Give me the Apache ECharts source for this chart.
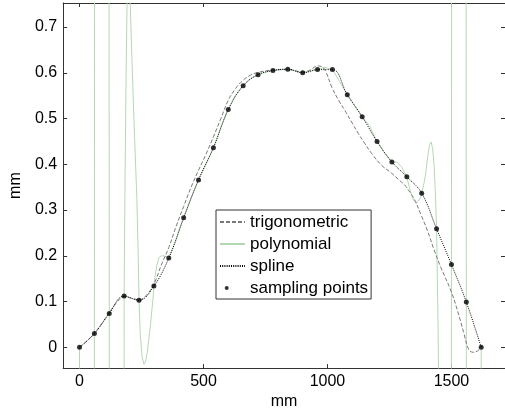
<!DOCTYPE html>
<html>
<head>
<meta charset="utf-8">
<script src="https://cdn.jsdelivr.net/npm/echarts@6/dist/echarts.min.js"></script>
<style>
  html, body { margin: 0; padding: 0; background: #fff; }
  #chart { width: 505px; height: 415px; }
</style>
</head>
<body>
<div id="chart"></div>
<script>
// sampling points (every 60 mm)
const sampleX = [0, 60, 120, 180, 240, 300, 360, 420, 480, 540, 600, 660, 720, 780,
  840, 900, 960, 1020, 1080, 1140, 1200, 1260, 1320, 1380, 1440, 1500, 1560, 1620];
const sampleY = [0, 0.030, 0.074, 0.112, 0.103, 0.134, 0.195, 0.283, 0.366, 0.436, 0.520, 0.572, 0.596, 0.605,
  0.608, 0.600, 0.607, 0.607, 0.552, 0.504, 0.450, 0.405, 0.373, 0.337, 0.259, 0.181, 0.099, 0];

// trigonometric fit
const trigX = [0, 30, 60, 90, 120, 150, 180, 210, 240, 270, 300, 330, 360, 390, 420, 450, 480, 510, 540, 570,
  600, 630, 660, 690, 720, 780, 840, 900, 930, 960, 975, 992, 1018, 1045, 1071, 1100, 1125, 1150, 1178,
  1218, 1258, 1290, 1311, 1335, 1351, 1377, 1404, 1430, 1457, 1497, 1524, 1550, 1570, 1590, 1605, 1620];
const trigY = [0, 0.014, 0.031, 0.052, 0.076, 0.098, 0.111, 0.107, 0.104, 0.114, 0.138, 0.180, 0.218, 0.265,
  0.308, 0.350, 0.387, 0.422, 0.460, 0.500, 0.540, 0.566, 0.584, 0.595, 0.601, 0.606, 0.607, 0.602, 0.606,
  0.615, 0.614, 0.604, 0.568, 0.540, 0.517, 0.490, 0.467, 0.446, 0.424, 0.398, 0.381, 0.365, 0.355, 0.337,
  0.323, 0.290, 0.254, 0.213, 0.175, 0.125, 0.081, 0.031, -0.005, -0.011, -0.008, 0];

// polynomial interpolation (runs far off the axes near both ends)
const polyX = [0, 30, 60, 90, 120, 150, 180, 183, 188, 192, 198, 204, 212, 222, 231, 236, 240, 245, 252, 260,
  267, 273, 280, 287, 297, 300, 306, 313, 320, 330, 340, 350, 360, 390, 420, 450, 480, 510, 540, 570, 600,
  630, 660, 690, 720, 750, 780, 810, 840, 870, 900, 930, 960, 990, 1020, 1050, 1080, 1110, 1140, 1170, 1200,
  1230, 1260, 1280, 1298, 1317, 1320, 1337, 1347, 1357, 1367, 1377, 1380, 1390, 1397, 1405, 1412, 1418, 1424,
  1430, 1435, 1440, 1446, 1452, 1475, 1500, 1530, 1560, 1590, 1620];
const polyY = [0, -30, 0.030, 30, 0.074, -30, 0.112, 0.33, 0.60, 0.76, 0.82, 0.76, 0.62, 0.46, 0.33, 0.22, 0.103,
  0.03, -0.02, -0.037, -0.03, -0.012, 0.02, 0.053, 0.11, 0.134, 0.16, 0.182, 0.196, 0.200, 0.200, 0.198, 0.195,
  0.236, 0.283, 0.326, 0.366, 0.401, 0.436, 0.480, 0.520, 0.550, 0.572, 0.587, 0.596, 0.601, 0.605, 0.607,
  0.608, 0.604, 0.600, 0.603, 0.607, 0.612, 0.607, 0.580, 0.552, 0.528, 0.504, 0.484, 0.450, 0.425, 0.405,
  0.405, 0.395, 0.377, 0.373, 0.337, 0.322, 0.316, 0.320, 0.330, 0.337, 0.360, 0.384, 0.420, 0.443, 0.449,
  0.435, 0.400, 0.340, 0.259, 0.05, -0.3, -30, 0.181, 30, 0.099, -30, 0];

const xMin = -66, xMax = 1716;
const yMin = -0.0454, yMax = 0.7526;

const zip = (xs, ys) => xs.map((x, i) => [x, ys[i]]);
const font = 'Liberation Sans, Arial, Helvetica, sans-serif';
const frame = '#333';

const chart = echarts.init(document.getElementById('chart'));

const axisBase = {
  type: 'value',
  axisLine: { show: true, onZero: false, lineStyle: { color: frame, width: 1 } },
  axisTick: { show: true, inside: true, length: 4, lineStyle: { color: frame } },
  splitLine: { show: false }
};
const labelStyle = { fontSize: 16, fontFamily: font, color: '#000', showMinLabel: false, showMaxLabel: false,
  formatter: (v) => String(Math.round(v * 1000) / 1000) };
const noSymbol = { opacity: 0 };

const option = {
  animation: false,
  backgroundColor: '#fff',
  grid: { left: 58, top: 3, width: 448, height: 369 },
  legend: {
    orient: 'vertical',
    left: 216, top: 210,
    padding: [3, 3, 2, 3],
    itemWidth: 25, itemHeight: 4, itemGap: 4,
    backgroundColor: '#fff',
    borderColor: frame, borderWidth: 1, borderRadius: 0,
    textStyle: { fontSize: 17, fontFamily: font, color: '#000', lineHeight: 18 },
    data: [
      { name: 'trigonometric', itemStyle: noSymbol },
      { name: 'polynomial', itemStyle: noSymbol },
      { name: 'spline', itemStyle: noSymbol },
      { name: 'sampling points', icon: 'path://M0,0M25,4M4.7,2a2,2 0 1,0 4,0a2,2 0 1,0 -4,0z' }
    ]
  },
  xAxis: [
    Object.assign({}, axisBase, {
      min: xMin, max: xMax, splitNumber: 4, position: 'bottom',
      name: 'mm', nameLocation: 'middle', nameGap: 22,
      nameTextStyle: { fontSize: 16, fontFamily: font, color: '#000' },
      axisLabel: Object.assign({ margin: 5 }, labelStyle)
    }),
    Object.assign({}, axisBase, {
      min: xMin, max: xMax, splitNumber: 4, position: 'top',
      axisLabel: { show: false }
    })
  ],
  yAxis: [
    Object.assign({}, axisBase, {
      min: yMin, max: yMax, splitNumber: 8, position: 'left',
      name: 'mm', nameLocation: 'middle', nameGap: 25,
      nameTextStyle: { fontSize: 16, fontFamily: font, color: '#000' },
      axisLabel: Object.assign({ margin: 6 }, labelStyle)
    }),
    Object.assign({}, axisBase, {
      min: yMin, max: yMax, splitNumber: 8, position: 'right',
      axisLabel: { show: false }
    })
  ],
  series: [
    {
      name: 'polynomial', type: 'line', data: zip(polyX, polyY),
      symbol: 'none', smooth: false, clip: true,
      lineStyle: { color: '#b3d9b3', width: 1 }, itemStyle: { color: '#b3d9b3' }, z: 1
    },
    {
      name: 'trigonometric', type: 'line', data: zip(trigX, trigY),
      symbol: 'none', smooth: 0.4, clip: true,
      lineStyle: { color: '#7a7a7a', width: 1, type: [4, 2] }, itemStyle: { color: '#7a7a7a' }, z: 2
    },
    {
      name: 'spline', type: 'line', data: zip(sampleX, sampleY),
      symbol: 'none', smooth: 0.4, clip: true,
      lineStyle: { color: '#000', width: 1, type: [1, 1.2] }, itemStyle: { color: '#000' }, z: 3
    },
    {
      name: 'sampling points', type: 'scatter', data: zip(sampleX, sampleY),
      symbol: 'circle', symbolSize: 5,
      itemStyle: { color: '#000' }, z: 4
    }
  ]
};

chart.setOption(option);
</script>
</body>
</html>
